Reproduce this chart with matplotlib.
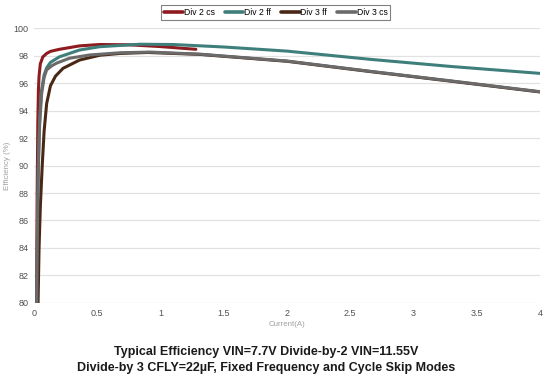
import matplotlib
matplotlib.use("Agg")
import matplotlib.pyplot as plt

plt.rcParams['font.family'] = ['Liberation Sans', 'DejaVu Sans']

series_names = ["Div 2 cs", "Div 2 ff", "Div 3 ff", "Div 3 cs"]
series_colors = ["#8e1b1f", "#3f7f7b", "#4a2816", "#6a6a6a"]

div2cs_x = [0.02, 0.025, 0.03, 0.035, 0.04, 0.05, 0.07, 0.1, 0.13, 0.2, 0.36, 0.52, 0.75, 1.0, 1.28]
div2cs_y = [80, 88, 93, 95.5, 96.5, 97.4, 97.9, 98.15, 98.3, 98.45, 98.7, 98.8, 98.78, 98.65, 98.45]

div2ff_x = [0.022, 0.028, 0.035, 0.045, 0.06, 0.08, 0.1, 0.13, 0.2, 0.36, 0.52, 0.84, 1.1, 1.5, 2.0, 2.66, 3.3, 4.0]
div2ff_y = [80, 86, 90.5, 93.5, 95.5, 96.6, 97.1, 97.5, 97.9, 98.4, 98.64, 98.82, 98.8, 98.62, 98.32, 97.72, 97.2, 96.7]

div3ff_x = [0.032, 0.04, 0.05, 0.065, 0.08, 0.1, 0.13, 0.17, 0.23, 0.36, 0.52, 0.68, 0.9, 1.31, 2.0, 2.66, 3.3, 4.0]
div3ff_y = [80, 84, 87, 90, 92.5, 94.5, 95.8, 96.5, 97.07, 97.67, 98.02, 98.15, 98.22, 98.08, 97.58, 96.83, 96.13, 95.35]

div3cs_x = [0.022, 0.028, 0.035, 0.045, 0.06, 0.08, 0.1, 0.14, 0.18, 0.28, 0.44, 0.68, 0.92, 1.31, 2.0, 2.66, 3.3, 4.0]
div3cs_y = [80, 86, 90, 93, 95.2, 96.4, 96.95, 97.25, 97.45, 97.8, 98.04, 98.2, 98.25, 98.1, 97.6, 96.85, 96.15, 95.37]

x_ticks = [0, 0.5, 1, 1.5, 2, 2.5, 3, 3.5, 4]
x_tick_labels = ["0", "0.5", "1", "1.5", "2", "2.5", "3", "3.5", "4"]
y_ticks = [80, 82, 84, 86, 88, 90, 92, 94, 96, 98, 100]

fig = plt.figure(figsize=(5.44, 3.77), dpi=100)
ax = fig.add_axes([0.0625, 0.1963, 0.93, 0.7294])

data = [(div2cs_x, div2cs_y), (div2ff_x, div2ff_y), (div3ff_x, div3ff_y), (div3cs_x, div3cs_y)]
for (xs, ys), name, col in zip(data, series_names, series_colors):
    ax.plot(xs, ys, color=col, lw=2.2, label=name, solid_capstyle='round', solid_joinstyle='round')

ax.set_xlim(0, 4)
ax.set_ylim(80, 100)
ax.set_xticks(x_ticks)
ax.set_xticklabels(x_tick_labels)
ax.set_yticks(y_ticks)
ax.tick_params(axis='both', length=0, labelsize=6.5, colors="#505050", pad=4)
ax.grid(axis='y', color="#e2e2e2", lw=0.9)
ax.set_axisbelow(True)
for s in ax.spines.values():
    s.set_visible(False)

ax.set_xlabel("Current(A)", fontsize=5.7, color="#a0a0a0")
ax.xaxis.set_label_coords(0.5, -0.065)
ax.set_ylabel("Efficiency (%)", fontsize=5.7, color="#a0a0a0")
ax.yaxis.set_label_coords(-0.045, 0.5)

leg = ax.legend(loc='upper center', bbox_to_anchor=(0.478, 1.1), ncol=4,
                fontsize=6.2, frameon=True, fancybox=False, edgecolor="#606060",
                handlelength=2.2, handletextpad=0.1, columnspacing=1.1, borderpad=0.35)
leg.get_frame().set_linewidth(0.8)
for h in leg.get_lines():
    h.set_linewidth(2.6)

fig.text(0.49, 0.044, "Typical Efficiency VIN=7.7V Divide-by-2 VIN=11.55V\nDivide-by 3 CFLY=22µF, Fixed Frequency and Cycle Skip Modes",
         ha='center', va='center', fontsize=9, fontweight='bold', color="#1a1a1a", linespacing=1.45)

fig.savefig("out.png", dpi=100)
